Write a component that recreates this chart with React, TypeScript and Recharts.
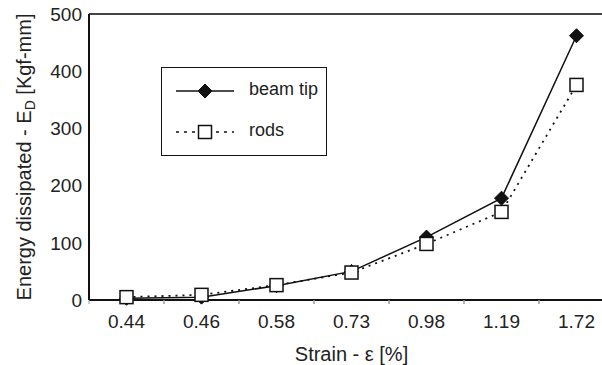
import React from 'react';
import { LineChart, Line, XAxis, YAxis, ReferenceLine, Legend } from 'recharts';

const strains = ['0.44', '0.46', '0.58', '0.73', '0.98', '1.19', '1.72'];
const beamTip = [3, 5, 25, 50, 110, 178, 462];
const rods = [5, 9, 26, 48, 98, 154, 376];
const yTicks = [0, 100, 200, 300, 400, 500];

const data = strains.map((s, i) => ({ strain: s, beamTip: beamTip[i], rods: rods[i] }));

const FONT = '"Liberation Sans", Arial, Helvetica, sans-serif';
const INK = '#111';

const Diamond = (props: any) => {
    const { cx, cy } = props;
    if (cx == null || cy == null) return null;
    const r = 7;
    return <polygon points={`${cx},${cy - r} ${cx + r},${cy} ${cx},${cy + r} ${cx - r},${cy}`} fill={INK} stroke={INK} />;
};

const Square = (props: any) => {
    const { cx, cy } = props;
    if (cx == null || cy == null) return null;
    const h = 6.5;
    return <rect x={cx - h} y={cy - h} width={h * 2} height={h * 2} fill="#fff" stroke={INK} strokeWidth={1.5} />;
};

const XTick = (props: any) => {
    const { x, y, payload } = props;
    const off = payload && payload.offset ? payload.offset : 37.5;
    return (
        <g>
            <line x1={x - off} y1={y} x2={x - off} y2={y + 4} stroke="#999" />
            <line x1={x + off} y1={y} x2={x + off} y2={y + 4} stroke="#999" />
            <text x={x} y={y + 28} textAnchor="middle" fontSize={19} fontFamily={FONT} fill="#222">{payload.value}</text>
        </g>
    );
};

const YLabel = (props: any) => {
    const { viewBox } = props;
    const cx = viewBox.x + 31;
    const cy = viewBox.y + viewBox.height / 2;
    return (
        <text x={cx} y={cy} transform={`rotate(-90, ${cx}, ${cy})`} textAnchor="middle" fontSize={20} fontFamily={FONT} fill="#222">
            Energy dissipated - E<tspan fontSize={14} dy={4}>D</tspan><tspan dy={-4}> [Kgf-mm]</tspan>
        </text>
    );
};

const LegendBox = () => (
    <div style={{ width: 164, height: 87, border: `1.5px solid ${INK}`, background: '#fff', fontFamily: FONT, fontSize: 18, color: '#222', position: 'relative' }}>
        <svg width={80} height={87} style={{ position: 'absolute', left: 0, top: 0 }}>
            <line x1={14} y1={23} x2={72} y2={23} stroke={INK} strokeWidth={1.5} />
            <Diamond cx={43} cy={23} />
            <line x1={14} y1={64} x2={72} y2={64} stroke={INK} strokeWidth={1.5} strokeDasharray="3 5" />
            <Square cx={43} cy={64} />
        </svg>
        <div style={{ position: 'absolute', left: 87, top: 11 }}>beam tip</div>
        <div style={{ position: 'absolute', left: 87, top: 52 }}>rods</div>
    </div>
);

export default function App() {
    return (
        <div style={{ position: 'absolute', left: 0, top: 0, width: 602, height: 365, overflow: 'hidden', background: '#fff' }}>
            <LineChart width={620} height={365} data={data} margin={{ top: 14, right: 6, left: 0, bottom: 0 }}>
                <XAxis
                    dataKey="strain"
                    scale="band"
                    height={65}
                    tickSize={0}
                    tickMargin={0}
                    tick={<XTick />}
                    axisLine={{ stroke: INK, strokeWidth: 2 }}
                    tickLine={false}
                    interval={0}
                    label={{ value: 'Strain - ε [%]', position: 'insideBottom', offset: 4, fontSize: 20, fontFamily: FONT, fill: '#222' }}
                />
                <YAxis
                    width={89}
                    domain={[0, 500]}
                    ticks={yTicks}
                    tickSize={0}
                    tickMargin={7}
                    tickLine={false}
                    axisLine={{ stroke: INK, strokeWidth: 2 }}
                    tick={{ fontSize: 19, fontFamily: FONT, fill: '#222' }}
                    label={<YLabel />}
                />
                <ReferenceLine y={500} stroke="#444" strokeWidth={2} />
                <Legend
                    layout="horizontal"
                    verticalAlign="middle"
                    align="center"
                    content={<LegendBox />}
                    wrapperStyle={{ left: 161, top: 67, width: 167, height: 90 }}
                />
                <Line dataKey="beamTip" stroke={INK} strokeWidth={1.5} dot={<Diamond />} isAnimationActive={false} />
                <Line dataKey="rods" stroke={INK} strokeWidth={1.8} strokeDasharray="2 5" dot={<Square />} isAnimationActive={false} />
            </LineChart>
        </div>
    );
}
